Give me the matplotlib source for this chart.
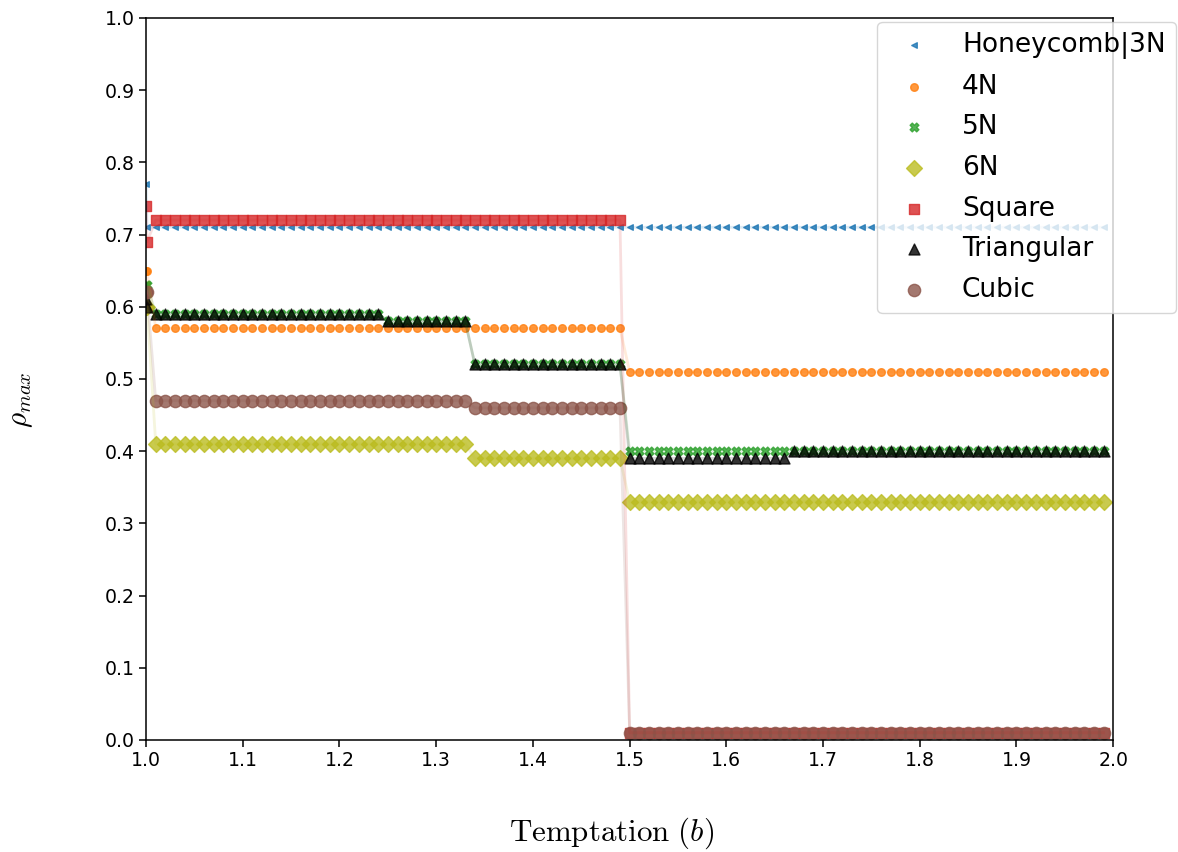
import numpy as np
import matplotlib

matplotlib.use("Agg")
import matplotlib.pyplot as plt

plt.rcParams["mathtext.fontset"] = "cm"

# temptation grid: two points at b=1, then 1.01 .. 1.99
B_START = [1.0, 1.001]
B_PLATEAU = np.round(np.arange(1.01, 2.0, 0.01), 2)
# plateau segments: 1.01-1.24, 1.25-1.33, 1.34-1.49, 1.50-1.66, 1.67-1.99
SEG_LEN = [24, 9, 16, 17, 33]

LABELS = ["Honeycomb|3N", "4N", "5N", "6N", "Square", "Triangular", "Cubic"]
START = {
    "Honeycomb|3N": [0.77, 0.71],
    "4N": [0.65, 0.65],
    "5N": [0.63, 0.63],
    "6N": [0.60, 0.60],
    "Square": [0.74, 0.69],
    "Triangular": [0.61, 0.60],
    "Cubic": [0.62, 0.62],
}
LEVELS = {
    "Honeycomb|3N": [0.71, 0.71, 0.71, 0.71, 0.71],
    "4N": [0.57, 0.57, 0.57, 0.51, 0.51],
    "5N": [0.59, 0.58, 0.52, 0.40, 0.40],
    "6N": [0.41, 0.41, 0.39, 0.33, 0.33],
    "Square": [0.72, 0.72, 0.72, 0.01, 0.01],
    "Triangular": [0.59, 0.58, 0.52, 0.39, 0.40],
    "Cubic": [0.47, 0.47, 0.46, 0.01, 0.01],
}

STYLE = {
    "Honeycomb|3N": ("#1f77b4", "<", 16),
    "4N": ("#ff7f0e", "o", 30),
    "5N": ("#2ca02c", "X", 40),
    "6N": ("#bcbd22", "D", 65),
    "Square": ("#d62728", "s", 56),
    "Triangular": ("black", "^", 62),
    "Cubic": ("#8c564b", "o", 78),
}

b = np.concatenate([B_START, B_PLATEAU])

fig = plt.figure(figsize=(11.78, 8.52), dpi=100)
ax = fig.add_axes([0.124, 0.1315, 0.821, 0.8475])

for name in LABELS:
    rho = np.concatenate([START[name], np.repeat(LEVELS[name], SEG_LEN)])
    color, marker, size = STYLE[name]
    ax.plot(b, rho, color=color, alpha=0.15, lw=2)
    ax.scatter(b, rho, color=color, marker=marker, s=size, alpha=0.8,
               linewidths=1.0, label=name)

ax.set_xlim(1.0, 2.0)
ax.set_ylim(0.0, 1.0)
ax.set_xticks(np.round(np.arange(1.0, 2.01, 0.1), 1))
ax.set_yticks(np.round(np.arange(0.0, 1.01, 0.1), 1))
ax.tick_params(labelsize=13.6, length=4.8, width=1.1)
for sp in ax.spines.values():
    sp.set_linewidth(1.1)

ax.set_xlabel(r"$\mathrm{Temptation}\ (b)$", fontsize=22.3)
ax.set_ylabel(r"$\rho_{max}$", fontsize=21)
ax.xaxis.set_label_coords(0.481, -0.105)
ax.yaxis.set_label_coords(-0.115, 0.471)

ax.legend(loc="upper right", bbox_to_anchor=(1.065, 0.995), borderaxespad=0,
          fontsize=19, labelspacing=0.555, scatterpoints=1, framealpha=0.8)

fig.savefig("out.png", dpi=100)
